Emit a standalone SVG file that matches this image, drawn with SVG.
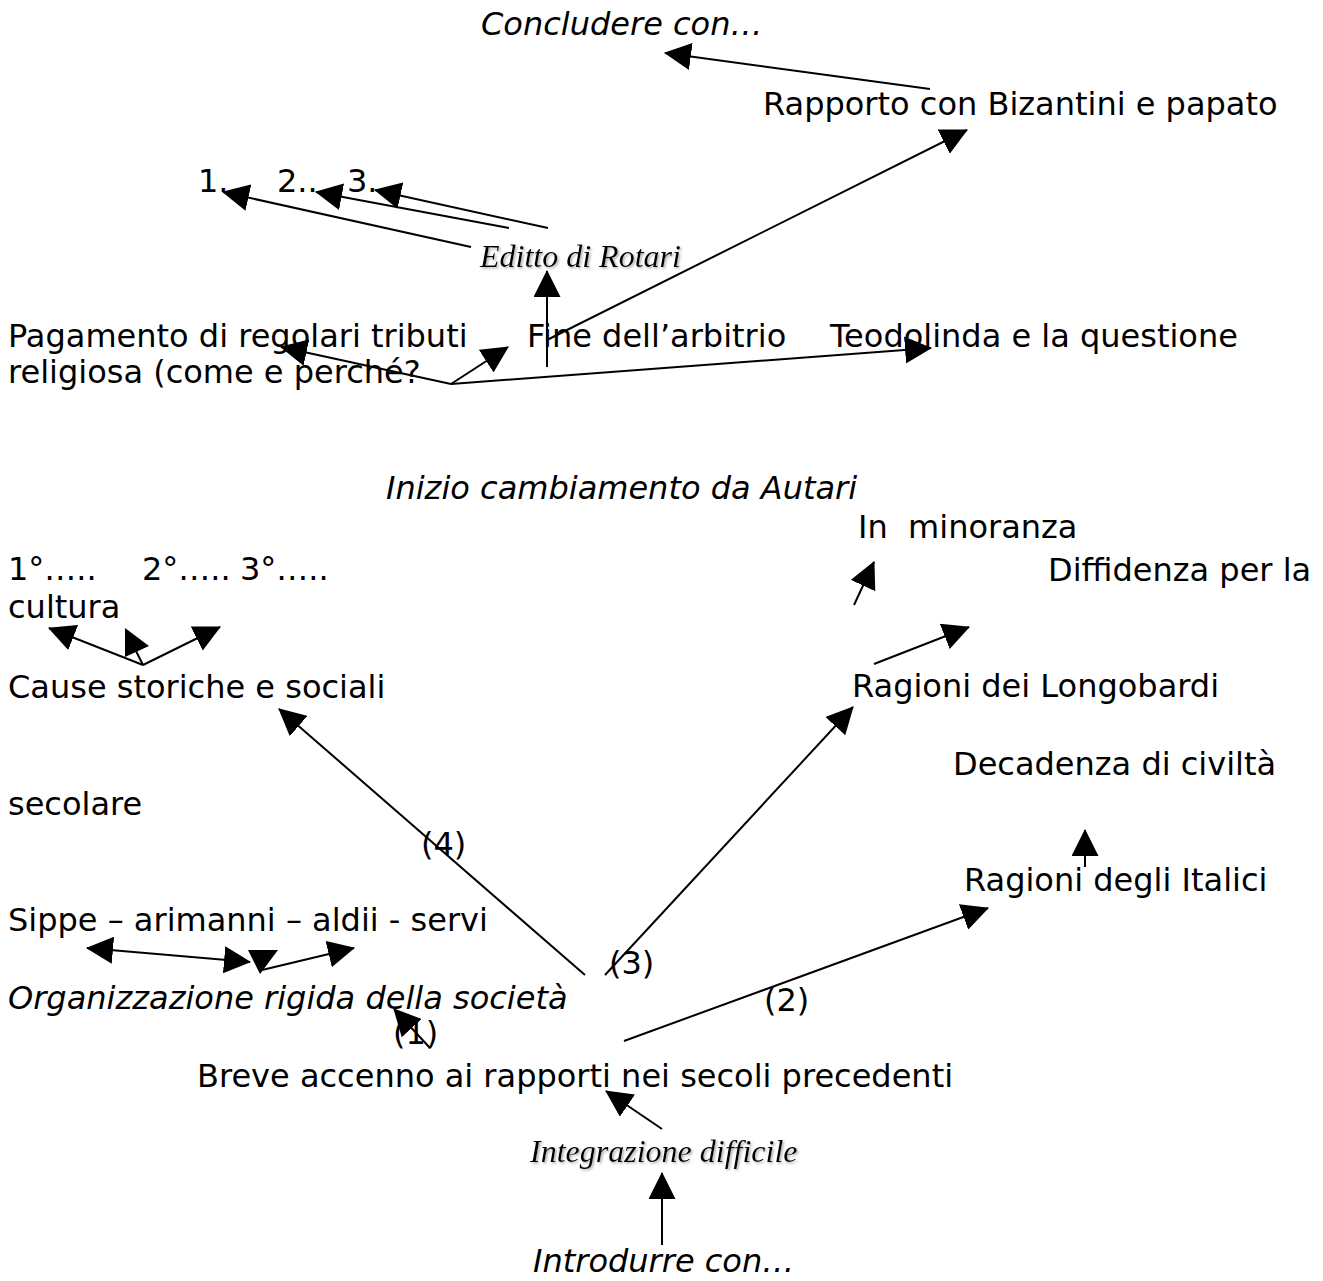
<svg xmlns="http://www.w3.org/2000/svg" width="1323" height="1281" viewBox="0 0 1323 1281">
<style>
  .t { font-family: "DejaVu Sans", Verdana, sans-serif; font-size: 32px; fill: #000; }
  .ti { font-family: "DejaVu Sans", Verdana, sans-serif; font-size: 32px; font-style: italic; fill: #000; }
  .ts { font-family: "Liberation Serif", "Times New Roman", serif; font-size: 32px; font-style: italic; fill: #000; filter: url(#shadow); }
  .c line { stroke: #000; stroke-width: 2; fill: none; }
  .c .a { marker-end: url(#ah); }
  .c .b { marker-start: url(#ahs); marker-end: url(#ah); }
  .c polygon { fill: #000; stroke: none; }
</style>
<defs>
  <marker id="ah" viewBox="0 0 27 27" refX="26" refY="13.5" markerWidth="27" markerHeight="27" markerUnits="userSpaceOnUse" orient="auto">
    <path d="M0,0 L27,13.5 L0,27 Z" fill="#000"/>
  </marker>
  <marker id="ahs" viewBox="0 0 27 27" refX="26" refY="13.5" markerWidth="27" markerHeight="27" markerUnits="userSpaceOnUse" orient="auto-start-reverse">
    <path d="M0,0 L27,13.5 L0,27 Z" fill="#000"/>
  </marker>
  <filter id="shadow" x="-5%" y="-20%" width="110%" height="140%">
    <feDropShadow dx="1.5" dy="1.5" stdDeviation="0.8" flood-color="#999" flood-opacity="0.8"/>
  </filter>
</defs>
<rect width="1323" height="1281" fill="#fff"/>

<g id="connectors" class="c">
  <line class="a" x1="930" y1="89" x2="665" y2="53"/>
  <line class="a" x1="547" y1="340" x2="967" y2="130"/>
  <line class="a" x1="547" y1="367" x2="547" y2="271"/>
  <line class="a" x1="471" y1="247" x2="223" y2="192"/>
  <line class="a" x1="509" y1="228" x2="316" y2="192"/>
  <line class="a" x1="548" y1="228" x2="375" y2="190"/>
  <line class="a" x1="451" y1="384" x2="281" y2="347"/>
  <line class="a" x1="451" y1="384" x2="508" y2="347"/>
  <line class="a" x1="451" y1="384" x2="931" y2="348"/>
  <line class="a" x1="143" y1="665" x2="49" y2="628"/>
  <line class="a" x1="143" y1="665" x2="220" y2="627"/>
  <line x1="143" y1="665" x2="136" y2="651"/>
  <polygon points="125,628 125,657 149,646"/>
  <line class="a" x1="585" y1="975" x2="279" y2="709"/>
  <line class="a" x1="605" y1="975" x2="853" y2="707"/>
  <line class="a" x1="624" y1="1041" x2="988" y2="908"/>
  <line class="a" x1="430" y1="1048" x2="394" y2="1009"/>
  <line class="b" x1="87" y1="948" x2="250" y2="962"/>
  <line class="a" x1="262" y1="970" x2="354" y2="948"/>
  <polygon points="248,950 278,950 260,974"/>
  <line class="a" x1="854" y1="605" x2="874" y2="562"/>
  <line class="a" x1="874" y1="664" x2="969" y2="627"/>
  <line class="a" x1="1085" y1="867" x2="1085" y2="830"/>
  <line class="a" x1="662" y1="1129" x2="606" y2="1091"/>
  <line class="a" x1="662" y1="1245" x2="662" y2="1173"/>
</g>

<g id="concludere"><text class="ti" x="481" y="35">Concludere con…</text></g>
<g id="rapporto"><text class="t" x="763" y="115">Rapporto con Bizantini e papato</text></g>
<g id="punto1"><text class="t" x="198" y="192">1.</text></g>
<g id="punto2"><text class="t" x="277" y="192">2..</text></g>
<g id="punto3"><text class="t" x="347" y="192">3.</text></g>
<g id="editto"><text class="ts" x="480" y="267">Editto di Rotari</text></g>
<g id="pagamento"><text class="t" x="8" y="347">Pagamento di regolari tributi</text></g>
<g id="fine"><text class="t" x="527" y="347">Fine dell’arbitrio</text></g>
<g id="teodolinda"><text class="t" x="830" y="347">Teodolinda e la questione</text></g>
<g id="religiosa"><text class="t" x="8" y="383">religiosa (come e perché?</text></g>
<g id="inizio"><text class="ti" x="386" y="499">Inizio cambiamento da Autari</text></g>
<g id="minoranza"><text class="t" x="858" y="538" xml:space="preserve">In  minoranza</text></g>
<g id="ordini">
  <text class="t" x="8" y="580">1°…..</text>
  <text class="t" x="142" y="580">2°…..</text>
  <text class="t" x="240" y="580">3°…..</text>
</g>
<g id="diffidenza"><text class="t" x="1048" y="581">Diffidenza per la</text></g>
<g id="cultura"><text class="t" x="8" y="618">cultura</text></g>
<g id="cause"><text class="t" x="8" y="698">Cause storiche e sociali</text></g>
<g id="longobardi"><text class="t" x="852" y="697">Ragioni dei Longobardi</text></g>
<g id="decadenza"><text class="t" x="953" y="775">Decadenza di civiltà</text></g>
<g id="secolare"><text class="t" x="8" y="815">secolare</text></g>
<g id="n4"><text class="t" x="421" y="855">(4)</text></g>
<g id="italici"><text class="t" x="964" y="891">Ragioni degli Italici</text></g>
<g id="sippe"><text class="t" x="8" y="931">Sippe – arimanni – aldii - servi</text></g>
<g id="n3"><text class="t" x="609" y="974">(3)</text></g>
<g id="organizzazione"><text class="ti" x="8" y="1009">Organizzazione rigida della società</text></g>
<g id="n2"><text class="t" x="764" y="1011">(2)</text></g>
<g id="n1"><text class="t" x="393" y="1044">(1)</text></g>
<g id="breve"><text class="t" x="197" y="1087">Breve accenno ai rapporti nei secoli precedenti</text></g>
<g id="integrazione"><text class="ts" x="530" y="1162">Integrazione difficile</text></g>
<g id="introdurre"><text class="ti" x="533" y="1272">Introdurre con…</text></g>
</svg>
